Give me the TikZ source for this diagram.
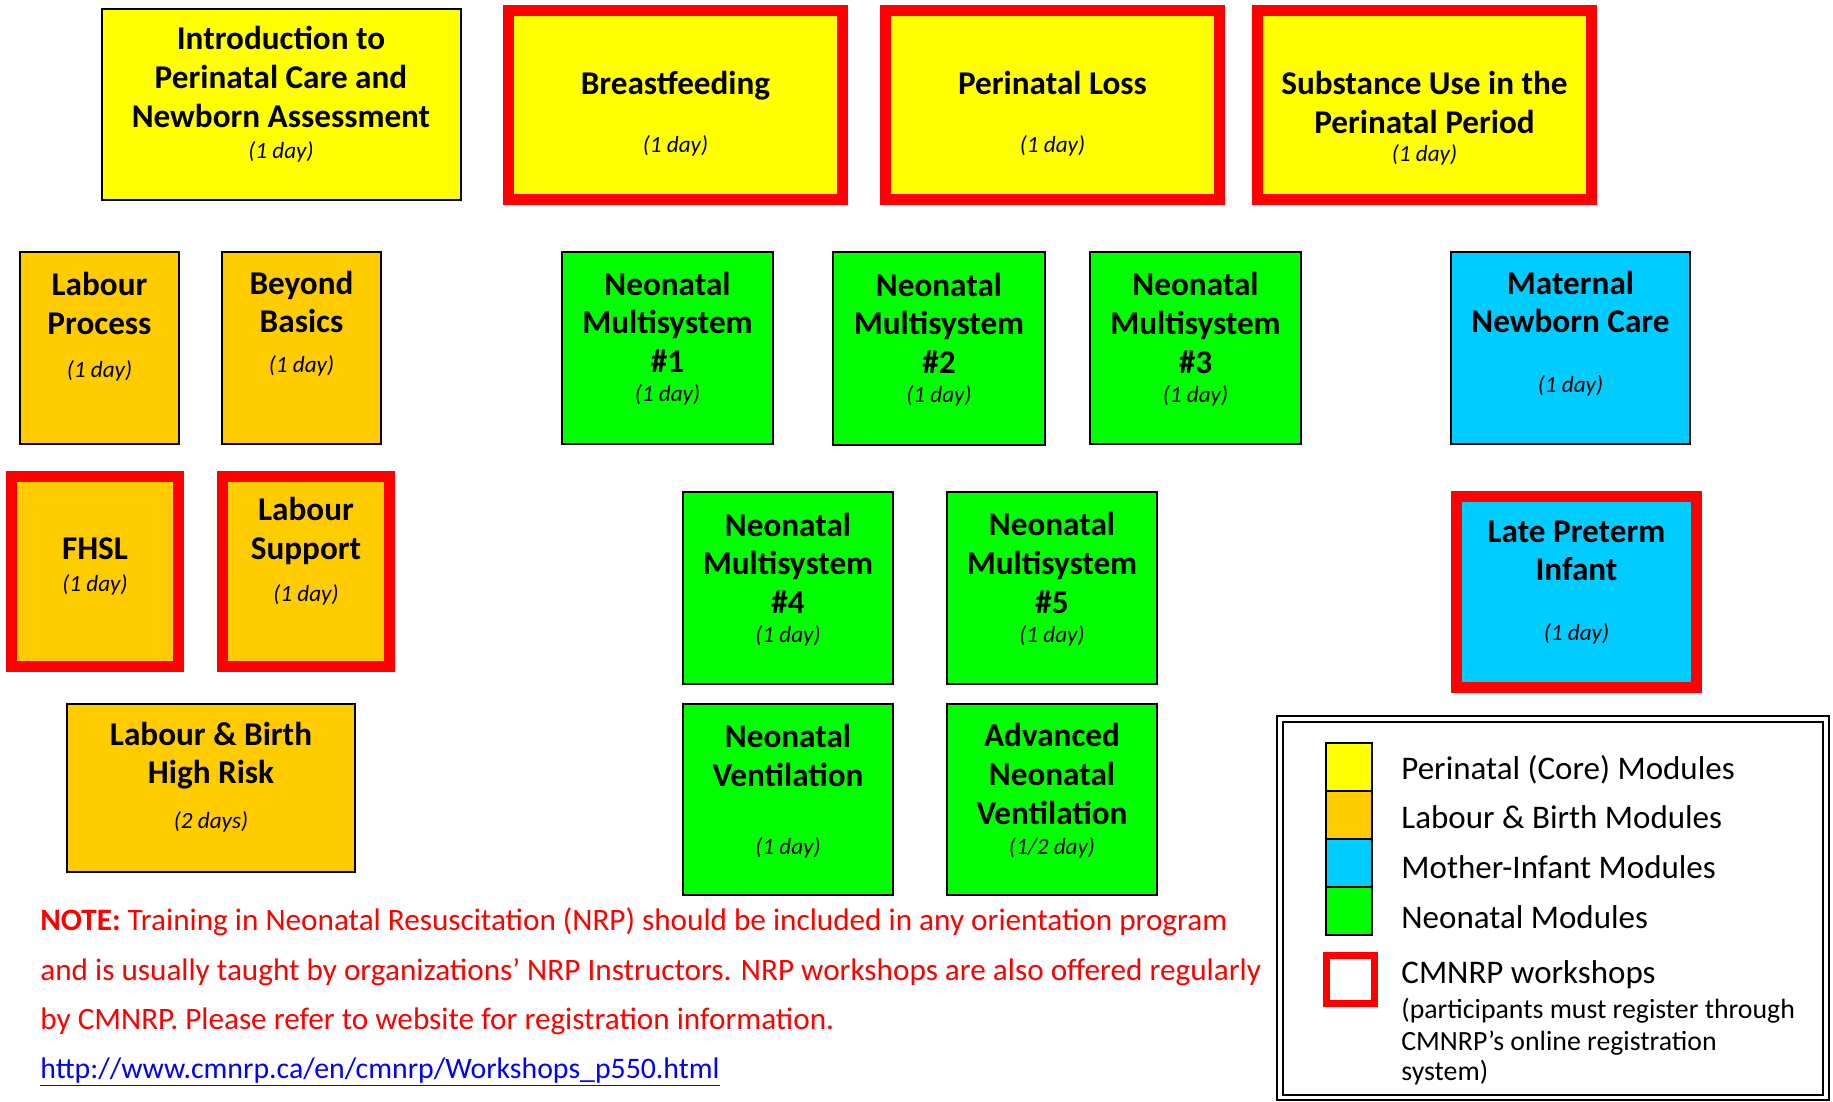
\documentclass[tikz,border=0pt]{standalone}
\usepackage{fontspec}
\setmainfont{Carlito}
\usetikzlibrary{fit}
\definecolor{cyel}{HTML}{FFFF00}
\definecolor{corg}{HTML}{FFCC00}
\definecolor{cgrn}{HTML}{00FF00}
\definecolor{cblu}{HTML}{00CCFF}
\definecolor{cred}{HTML}{FF0000}
\definecolor{clink}{HTML}{0000FF}
\begin{document}
\begin{tikzpicture}[x=0.5pt,y=-0.5pt,
  plainbox/.style={draw=black, line width=1pt, inner sep=0pt},
  wsbox/.style={draw=cred, line width=5.5pt, inner sep=0pt},
  ttl/.style={font=\bfseries\fontsize{16.6}{19.3}\selectfont, align=center, inner sep=0pt},
  dayl/.style={font=\itshape\fontsize{11.6}{14}\selectfont, inner sep=0pt},
  lg/.style={font=\fontsize{16.5}{18}\selectfont, inner sep=0pt, anchor=base west},
  lgs/.style={font=\fontsize{13.9}{16}\selectfont, inner sep=0pt, anchor=base west},
  nt/.style={font=\fontsize{15.6}{18}\selectfont, text=cred, inner sep=0pt, anchor=base west},
  sw/.style={draw=black, line width=1pt, inner sep=0pt}]
\useasboundingbox (0,0) rectangle (1833,1102);

% ---- Row 1 : perinatal core
\node[plainbox, fill=cyel, fit={(102,9) (461,200)}] (intro) {};
\node[ttl] (introt) at (281,77) {Introduction to\\Perinatal Care and\\Newborn Assessment};
\node[dayl] (introd) at (281,152) {(1 day)};

\node[wsbox, fill=cyel, fit={(508.5,10.5) (842.5,199.5)}] (bf) {};
\node[ttl] (bft) at (675.5,86) {Breastfeeding};
\node[dayl] (bfd) at (675.5,146) {(1 day)};

\node[wsbox, fill=cyel, fit={(885.5,10.5) (1219.5,199.5)}] (pl) {};
\node[ttl] (plt) at (1052.5,83) {Perinatal Loss};
\node[dayl] (pld) at (1052.5,146) {(1 day)};

\node[wsbox, fill=cyel, fit={(1257.5,10.5) (1591.5,199.5)}] (su) {};
\node[ttl] (sut) at (1424.5,102.5) {Substance Use in the\\Perinatal Period};
\node[dayl] (sud) at (1424.5,155) {(1 day)};

% ---- Row 2
\node[plainbox, fill=corg, fit={(20,252) (179,444)}] (lp) {};
\node[ttl] (lpt) at (99.5,303.5) {Labour\\Process};
\node[dayl] (lpd) at (99.5,371) {(1 day)};

\node[plainbox, fill=corg, fit={(222,252) (381,444)}] (bb) {};
\node[ttl] (bbt) at (301.5,302) {Beyond\\Basics};
\node[dayl] (bbd) at (301.5,366) {(1 day)};

\node[plainbox, fill=cgrn, fit={(562,252) (773,444)}] (nm1) {};
\node[ttl] (nm1t) at (667.5,322) {Neonatal\\Multisystem\\\#1};
\node[dayl] (nm1d) at (667.5,395) {(1 day)};

\node[plainbox, fill=cgrn, fit={(833,252) (1045,445)}] (nm2) {};
\node[ttl] (nm2t) at (939,323) {Neonatal\\Multisystem\\\#2};
\node[dayl] (nm2d) at (939,396) {(1 day)};

\node[plainbox, fill=cgrn, fit={(1090,252) (1301,444)}] (nm3) {};
\node[ttl] (nm3t) at (1195.5,323) {Neonatal\\Multisystem\\\#3};
\node[dayl] (nm3d) at (1195.5,396) {(1 day)};

\node[plainbox, fill=cblu, fit={(1451,252) (1690,444)}] (mnc) {};
\node[ttl] (mnct) at (1570.5,302) {Maternal\\Newborn Care};
\node[dayl] (mncd) at (1570.5,386) {(1 day)};

% ---- Row 3
\node[wsbox, fill=corg, fit={(11.5,476.5) (178.5,666.5)}] (fhsl) {};
\node[ttl] (fhslt) at (95,549) {FHSL};
\node[dayl] (fhsld) at (95,585) {(1 day)};

\node[wsbox, fill=corg, fit={(222.5,476.5) (389.5,666.5)}] (ls) {};
\node[ttl] (lst) at (306,531) {Labour\\Support};
\node[dayl] (lsd) at (306,595) {(1 day)};

\node[plainbox, fill=cgrn, fit={(683,492) (893,684)}] (nm4) {};
\node[ttl] (nm4t) at (788,563) {Neonatal\\Multisystem\\\#4};
\node[dayl] (nm4d) at (788,636) {(1 day)};

\node[plainbox, fill=cgrn, fit={(947,492) (1157,684)}] (nm5) {};
\node[ttl] (nm5t) at (1052,563) {Neonatal\\Multisystem\\\#5};
\node[dayl] (nm5d) at (1052,636) {(1 day)};

\node[wsbox, fill=cblu, fit={(1456.5,496.5) (1696.5,687.5)}] (lpi) {};
\node[ttl] (lpit) at (1576.5,551) {Late Preterm\\Infant};
\node[dayl] (lpid) at (1576.5,634) {(1 day)};

% ---- Row 4
\node[plainbox, fill=corg, fit={(67,704) (355,872)}] (lbhr) {};
\node[ttl] (lbhrt) at (211,755.5) {Labour \& Birth\\High Risk};
\node[dayl] (lbhrd) at (211,822) {(2 days)};

\node[plainbox, fill=cgrn, fit={(683,704) (893,895)}] (nv) {};
\node[ttl] (nvt) at (788,755.5) {Neonatal\\Ventilation};
\node[dayl] (nvd) at (788,848) {(1 day)};

\node[plainbox, fill=cgrn, fit={(947,704) (1157,895)}] (anv) {};
\node[ttl] (anvt) at (1052,774) {Advanced\\Neonatal\\Ventilation};
\node[dayl] (anvd) at (1052,848) {(1/2 day)};

% ---- Note
\node[nt] (n1) at (40,930) {\textbf{NOTE:} Training in Neonatal Resuscitation (NRP) should be included in any orientation program};
\node[nt] (n2) at (40,980) {and is usually taught by organizations’ NRP Instructors. NRP workshops are also offered regularly};
\node[nt] (n3) at (40,1029) {by CMNRP. Please refer to website for registration information.};
\node[nt, text=clink, font=\fontsize{14.9}{17}\selectfont] (n4) at (40,1078) {\underline{http://www.cmnrp.ca/en/cmnrp/Workshops\_p550.html}};

% ---- Legend
\node[draw=black, line width=1.2pt, inner sep=0pt, fit={(1277,716) (1829,1100)}] (legout) {};
\node[draw=black, line width=0.8pt, inner sep=0pt, fit={(1283,722) (1823,1095)}] (legin) {};
\node[sw, fill=cyel, fit={(1326,743) (1372,791)}] (sw1) {};
\node[sw, fill=corg, fit={(1326,791) (1372,839)}] (sw2) {};
\node[sw, fill=cblu, fit={(1326,839) (1372,887)}] (sw3) {};
\node[sw, fill=cgrn, fit={(1326,887) (1372,935)}] (sw4) {};
\node[draw=cred, line width=3.5pt, inner sep=0pt, fit={(1326.5,955.5) (1374.5,1003.5)}] (sw5) {};
\node[lg] (l1) at (1401,779) {Perinatal (Core) Modules};
\node[lg] (l2) at (1401,828) {Labour \& Birth Modules};
\node[lg] (l3) at (1401,878) {Mother-Infant Modules};
\node[lg] (l4) at (1401,928) {Neonatal Modules};
\node[lg] (l5) at (1401,983) {CMNRP workshops};
\node[lgs] (l6) at (1401,1018) {(participants must register through};
\node[lgs] (l7) at (1401,1050) {CMNRP’s online registration};
\node[lgs] (l8) at (1401,1080) {system)};
\end{tikzpicture}
\end{document}
